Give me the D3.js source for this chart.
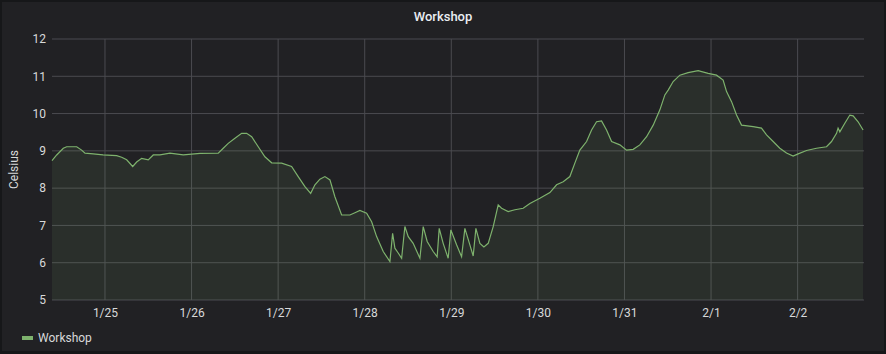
<!DOCTYPE html>
<html>
<head>
<meta charset="utf-8">
<script src="https://cdn.jsdelivr.net/npm/d3@7"></script>
<style>
  body { margin: 0; background: #161719; font-family: Roboto, "Noto Sans", sans-serif; }
  svg { display: block; }
</style>
</head>
<body>
<div id="chart"></div>
<script>
// DATA
const times = [
  "2019-01-24T09:19", "2019-01-24T10:37", "2019-01-24T12:27", "2019-01-24T13:23", "2019-01-24T16:10",
  "2019-01-24T17:32", "2019-01-24T18:28", "2019-01-24T20:46", "2019-01-24T23:27", "2019-01-25T03:14",
  "2019-01-25T04:38", "2019-01-25T06:01", "2019-01-25T07:41", "2019-01-25T08:47", "2019-01-25T10:10",
  "2019-01-25T12:00", "2019-01-25T13:23", "2019-01-25T15:14", "2019-01-25T18:01", "2019-01-25T21:42",
  "2019-01-26T02:20", "2019-01-26T07:24", "2019-01-26T08:47", "2019-01-26T10:10", "2019-01-26T12:02",
  "2019-01-26T13:53", "2019-01-26T15:16", "2019-01-26T16:40", "2019-01-26T18:29", "2019-01-26T20:20",
  "2019-01-26T22:12", "2019-01-27T00:58", "2019-01-27T03:44", "2019-01-27T05:34", "2019-01-27T07:26",
  "2019-01-27T09:01", "2019-01-27T10:12", "2019-01-27T11:35", "2019-01-27T12:58", "2019-01-27T14:22",
  "2019-01-27T15:44", "2019-01-27T17:36", "2019-01-27T19:54", "2019-01-27T21:17", "2019-01-27T22:40",
  "2019-01-28T00:32", "2019-01-28T01:55", "2019-01-28T03:18", "2019-01-28T05:08", "2019-01-28T06:59",
  "2019-01-28T07:44", "2019-01-28T08:22", "2019-01-28T09:17", "2019-01-28T10:14", "2019-01-28T11:08",
  "2019-01-28T12:04", "2019-01-28T13:26", "2019-01-28T15:18", "2019-01-28T16:13", "2019-01-28T17:19",
  "2019-01-28T18:59", "2019-01-28T20:05", "2019-01-28T20:39", "2019-01-28T21:45", "2019-01-28T23:08",
  "2019-01-28T23:53", "2019-01-29T01:28", "2019-01-29T02:51", "2019-01-29T03:46", "2019-01-29T05:09",
  "2019-01-29T06:04", "2019-01-29T06:49", "2019-01-29T07:56", "2019-01-29T09:02", "2019-01-29T10:14",
  "2019-01-29T11:37", "2019-01-29T13:00", "2019-01-29T13:56", "2019-01-29T15:46", "2019-01-29T17:38",
  "2019-01-29T19:56", "2019-01-29T21:47", "2019-01-30T00:33", "2019-01-30T03:20", "2019-01-30T05:11",
  "2019-01-30T07:01", "2019-01-30T08:52", "2019-01-30T10:15", "2019-01-30T11:38", "2019-01-30T13:30",
  "2019-01-30T14:53", "2019-01-30T16:16", "2019-01-30T17:39", "2019-01-30T19:02", "2019-01-30T20:26",
  "2019-01-30T22:44", "2019-01-31T00:35", "2019-01-31T02:25", "2019-01-31T04:16", "2019-01-31T06:08",
  "2019-01-31T07:58", "2019-01-31T09:49", "2019-01-31T11:12", "2019-01-31T12:07", "2019-01-31T13:30",
  "2019-01-31T15:21", "2019-01-31T17:39", "2019-01-31T20:26", "2019-01-31T23:12", "2019-02-01T01:31",
  "2019-02-01T03:21", "2019-02-01T04:18", "2019-02-01T05:41", "2019-02-01T07:04", "2019-02-01T08:27",
  "2019-02-01T11:40", "2019-02-01T13:59", "2019-02-01T15:23", "2019-02-01T17:13", "2019-02-01T19:04",
  "2019-02-01T20:55", "2019-02-01T22:45", "2019-02-02T00:08", "2019-02-02T02:28", "2019-02-02T05:14",
  "2019-02-02T08:01", "2019-02-02T09:24", "2019-02-02T10:47", "2019-02-02T11:13", "2019-02-02T11:42",
  "2019-02-02T13:05", "2019-02-02T14:28", "2019-02-02T15:23", "2019-02-02T16:46", "2019-02-02T18:09"
];
const workshop = [
  8.74, 8.89, 9.07, 9.11, 9.11, 9.02, 8.94, 8.92, 8.89, 8.87,
  8.83, 8.76, 8.58, 8.70, 8.80, 8.76, 8.89, 8.89, 8.94, 8.89,
  8.93, 8.94, 9.07, 9.20, 9.34, 9.47, 9.47, 9.38, 9.11, 8.84,
  8.68, 8.67, 8.58, 8.31, 8.04, 7.86, 8.09, 8.24, 8.31, 8.22,
  7.77, 7.28, 7.28, 7.34, 7.40, 7.33, 7.10, 6.70, 6.30, 6.03,
  6.79, 6.39, 6.26, 6.12, 6.97, 6.70, 6.52, 6.12, 6.97, 6.57,
  6.30, 6.16, 6.92, 6.52, 6.12, 6.88, 6.48, 6.16, 6.92, 6.48,
  6.18, 6.92, 6.52, 6.42, 6.52, 6.97, 7.55, 7.46, 7.37, 7.42,
  7.46, 7.59, 7.73, 7.88, 8.09, 8.17, 8.31, 8.67, 9.02, 9.25,
  9.56, 9.78, 9.80, 9.56, 9.25, 9.16, 9.02, 9.04, 9.16, 9.38,
  9.69, 10.10, 10.50, 10.63, 10.86, 11.03, 11.10, 11.15, 11.08, 11.03,
  10.90, 10.59, 10.32, 9.96, 9.69, 9.65, 9.61, 9.43, 9.25, 9.07,
  8.94, 8.86, 8.92, 9.01, 9.07, 9.11, 9.25, 9.47, 9.61, 9.51,
  9.74, 9.96, 9.94, 9.78, 9.56
];
const yTicks = [5, 6, 7, 8, 9, 10, 11, 12];
const xTicks = ["2019-01-25", "2019-01-26", "2019-01-27", "2019-01-28", "2019-01-29",
                "2019-01-30", "2019-01-31", "2019-02-01", "2019-02-02"];
const timeRange = ["2019-01-24T09:19", "2019-02-02T18:24"];

const W = 886, H = 354;
const margin = { top: 39, right: 22, bottom: 54, left: 52 };
const width = W - margin.left - margin.right;
const height = H - margin.top - margin.bottom;

const parse = d3.isoParse;
const data = times.map((t, i) => ({ t: parse(t), v: workshop[i] }));

const svg = d3.select("#chart").append("svg")
  .attr("width", W).attr("height", H);

// PANEL
svg.append("rect")
  .attr("x", 2).attr("y", 2).attr("width", W - 4).attr("height", H - 5)
  .attr("fill", "#212124");

svg.append("text")
  .attr("x", W / 2).attr("y", 21)
  .attr("text-anchor", "middle")
  .attr("fill", "#e9edf2")
  .style("font-size", "13px").style("font-weight", "500")
  .text("Workshop");

const g = svg.append("g").attr("transform", `translate(${margin.left},${margin.top})`);

const x = d3.scaleTime().domain(timeRange.map(parse)).range([0, width]);
const y = d3.scaleLinear().domain([5, 12]).range([height, 0]);

// GRID
g.selectAll(".hgrid").data(yTicks).enter().append("line")
  .attr("x1", 0).attr("x2", width)
  .attr("y1", d => y(d)).attr("y2", d => y(d))
  .attr("stroke", "#4b4b50").attr("stroke-width", 1);

g.selectAll(".vgrid").data(xTicks.map(parse)).enter().append("line")
  .attr("x1", d => x(d)).attr("x2", d => x(d))
  .attr("y1", 0).attr("y2", height)
  .attr("stroke", "#4b4b50").attr("stroke-width", 1);

// AREA + LINE
const area = d3.area().x(d => x(d.t)).y0(height).y1(d => y(d.v));
const line = d3.line().x(d => x(d.t)).y(d => y(d.v));

g.append("path").datum(data).attr("d", area)
  .attr("fill", "#7eb26d").attr("fill-opacity", 0.1);
g.append("path").datum(data).attr("d", line)
  .attr("fill", "none").attr("stroke", "#7eb26d").attr("stroke-width", 1.2);

// AXES
const xAxis = d3.axisBottom(x).tickValues(xTicks.map(parse))
  .tickFormat(d3.timeFormat("%-m/%-d")).tickSize(0).tickPadding(8);
const yAxis = d3.axisLeft(y).tickValues(yTicks).tickFormat(d3.format("d"))
  .tickSize(0).tickPadding(6);

const xg = g.append("g").attr("transform", `translate(0,${height})`).call(xAxis);
const yg = g.append("g").call(yAxis);
[xg, yg].forEach(a => {
  a.select(".domain").remove();
  a.selectAll("text").attr("fill", "#d8d9da").style("font-size", "12px")
    .style("font-family", "Roboto, sans-serif");
});

svg.append("text")
  .attr("transform", `translate(18,${margin.top + height / 2}) rotate(-90)`)
  .attr("text-anchor", "middle")
  .attr("fill", "#d8d9da").style("font-size", "12px")
  .text("Celsius");

// LEGEND
svg.append("rect").attr("x", 22).attr("y", 336).attr("width", 11).attr("height", 4)
  .attr("fill", "#7eb26d");
svg.append("text").attr("x", 38).attr("y", 342)
  .attr("fill", "#d8d9da").style("font-size", "12px")
  .text("Workshop");
</script>
</body>
</html>
